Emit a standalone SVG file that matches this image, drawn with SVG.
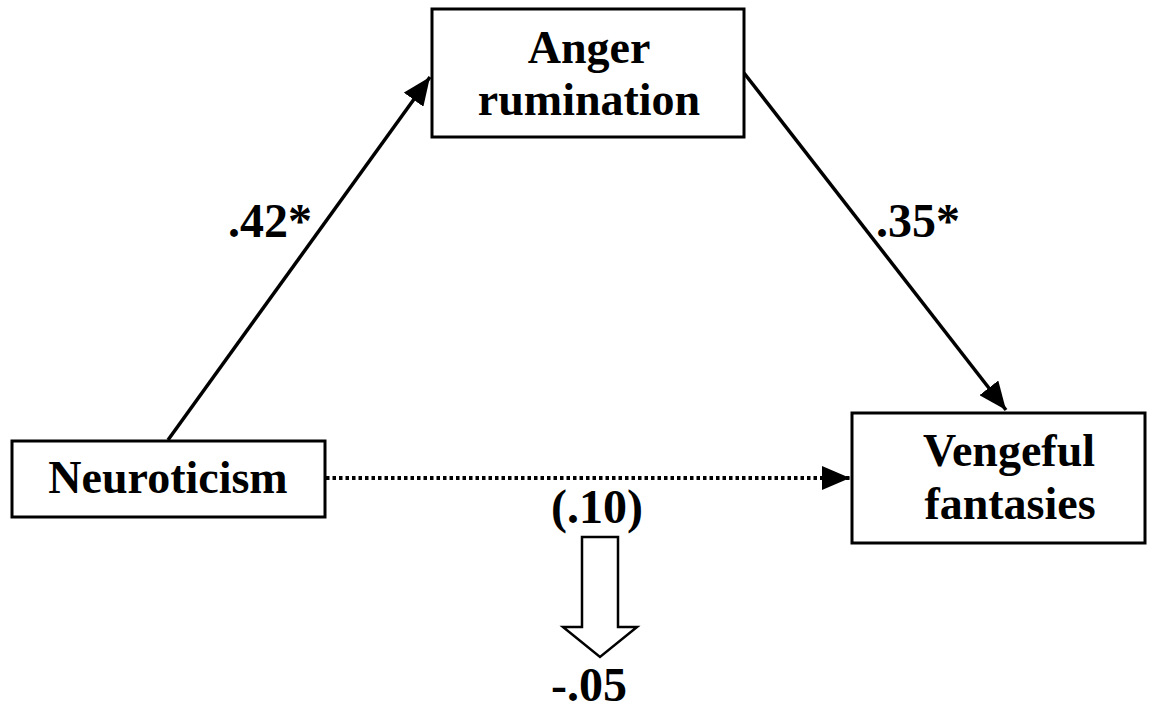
<svg xmlns="http://www.w3.org/2000/svg" width="1155" height="711" viewBox="0 0 1155 711">
<style>
.box{fill:#fff;stroke:#000;stroke-width:3}
.t{font-family:"Liberation Serif","Times New Roman",serif;font-weight:bold;font-size:46px;fill:#000;text-anchor:middle}
.lbl{font-family:"Liberation Serif","Times New Roman",serif;font-weight:bold;font-size:48px;fill:#000}
.edge{stroke:#000;stroke-width:3.5;fill:none}
</style>
<defs>
<marker id="ah" markerUnits="userSpaceOnUse" markerWidth="30" markerHeight="24" refX="28" refY="12" orient="auto">
<path d="M0,0 L28,12 L0,24 Z" fill="#000"/>
</marker>
</defs>
<rect width="1155" height="711" fill="#fff"/>
<g id="connectors">
<line class="edge" x1="168" y1="440" x2="430" y2="77" marker-end="url(#ah)"/>
<line class="edge" x1="744" y1="73" x2="1006" y2="410" marker-end="url(#ah)"/>
<line x1="326" y1="478" x2="850" y2="478" stroke="#000" stroke-width="4" stroke-dasharray="3.5 3" marker-end="url(#ah)"/>
<path d="M582,537 L618,537 L618,627 L637,627 L600,657 L563,627 L582,627 Z" fill="#fff" stroke="#000" stroke-width="2.5"/>
</g>
<g id="anger">
<rect class="box" x="432" y="9" width="312" height="128"/>
<text class="t" x="589" y="63">Anger</text>
<text class="t" x="589" y="115">rumination</text>
</g>
<g id="neuroticism">
<rect class="box" x="12" y="441" width="313" height="76"/>
<text class="t" x="168" y="493">Neuroticism</text>
</g>
<g id="vengeful">
<rect class="box" x="852" y="413" width="293" height="130"/>
<text class="t" x="1009" y="466">Vengeful</text>
<text class="t" x="1010" y="519">fantasies</text>
</g>
<g id="labels">
<text class="lbl" x="228" y="237">.42*</text>
<text class="lbl" x="876" y="237">.35*</text>
<text class="lbl" x="597" y="523" text-anchor="middle">(.10)</text>
<text class="lbl" x="589" y="701" text-anchor="middle">-.05</text>
</g>
</svg>
